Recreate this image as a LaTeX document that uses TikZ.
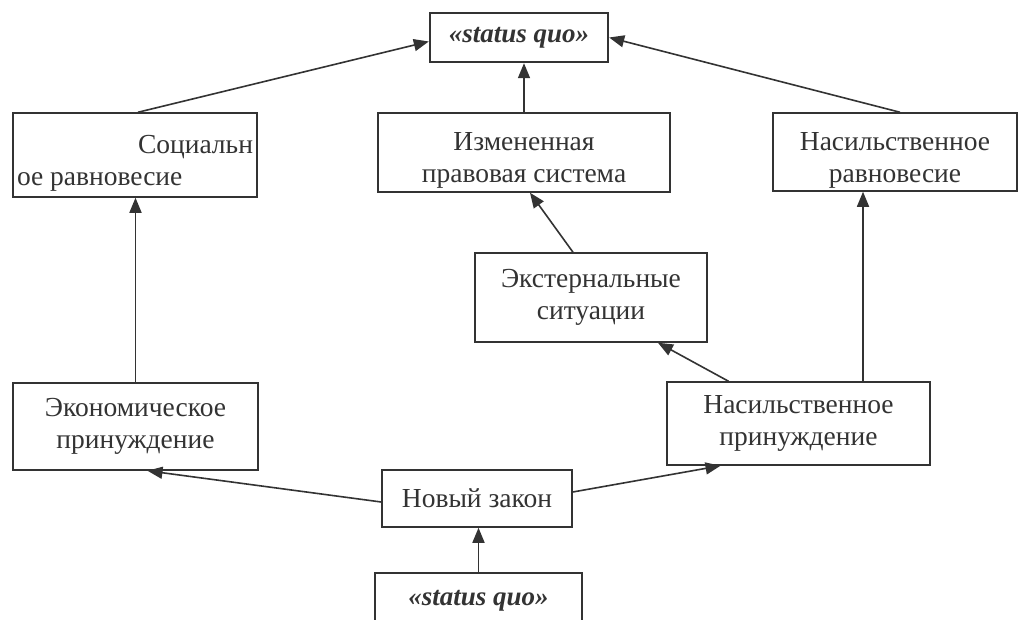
\documentclass[tikz,border=0pt]{standalone}
\usepackage{fontspec}
\setmainfont{Liberation Serif}
\usetikzlibrary{arrows.meta,calc}
\definecolor{ink}{rgb}{0.2,0.2,0.2}
\newcommand{\lowstrut}{\rule{0pt}{34pt}}
\begin{document}
\begin{tikzpicture}[x=1pt,y=-1pt,
  box/.style={draw=ink,line width=1.5pt,rectangle,inner sep=0pt,align=center,
    font=\fontsize{27.5}{32}\selectfont,text=ink},
  sqbox/.style={box,line width=2.4pt,font=\fontsize{27}{32}\selectfont\bfseries\itshape},
  arr/.style={draw=ink,line width=1.6pt,-{Triangle[length=15pt,width=12pt]}}]
\useasboundingbox (0,0) rectangle (1019,619);
\fill[white] (0,0) rectangle (1019,619);
\clip (0,0) rectangle (1019,619);

\node[sqbox,minimum width=178pt,minimum height=49pt] (sq) at (519,37.5) {«status quo»};
\node[box,minimum width=244pt,minimum height=84pt] (soc) at (135,155)
  {\makebox[236pt][r]{\lowstrut Социальн}\\\makebox[236pt][l]{ое равновесие}};
\node[box,minimum width=292pt,minimum height=79pt] (izm) at (524,152.5)
  {\lowstrut Измененная\\правовая система};
\node[box,minimum width=244pt,minimum height=78pt] (nasr) at (895,152)
  {\lowstrut Насильственное\\равновесие};
\node[box,minimum width=232pt,minimum height=89pt] (ext) at (591,297.5)
  {Экстернальные\\ситуации};
\node[box,minimum width=245pt,minimum height=87pt] (eco) at (135.5,426.5)
  {Экономическое\\принуждение};
\node[box,minimum width=263pt,minimum height=83pt] (nasp) at (798.5,423.5)
  {Насильственное\\принуждение};
\node[box,minimum width=190pt,minimum height=57pt] (nov) at (477,498.5)
  {Новый закон};
\node[sqbox,minimum width=207pt,minimum height=56pt] (sq2) at (478.5,601)
  {«status quo»};

\draw[arr] ([xshift=3pt]soc.north) -- ([yshift=-4pt]sq.west);
\draw[arr] (izm.north) -- (izm.north |- sq.south);
\draw[arr] ([xshift=5pt]nasr.north) -- (sq.east);
\draw[arr] ([xshift=-18pt]ext.north) -- ([xshift=6pt]izm.south);
\draw[arr] ([xshift=-70pt]nasp.north) -- ([xshift=67pt]ext.south);
\draw[arr] (eco.north) -- (eco.north |- soc.south);
\draw[arr] ([xshift=64.5pt]nasp.north) coordinate (np1) -- (np1 |- nasr.south);
\draw[arr] ([yshift=-3.5pt]nov.west) -- ([xshift=12pt]eco.south);
\draw[arr] ([yshift=6.5pt]nov.east) -- ([xshift=-78pt]nasp.south);
\draw[arr] (sq2.north) -- (sq2.north |- nov.south);
\end{tikzpicture}
\end{document}
